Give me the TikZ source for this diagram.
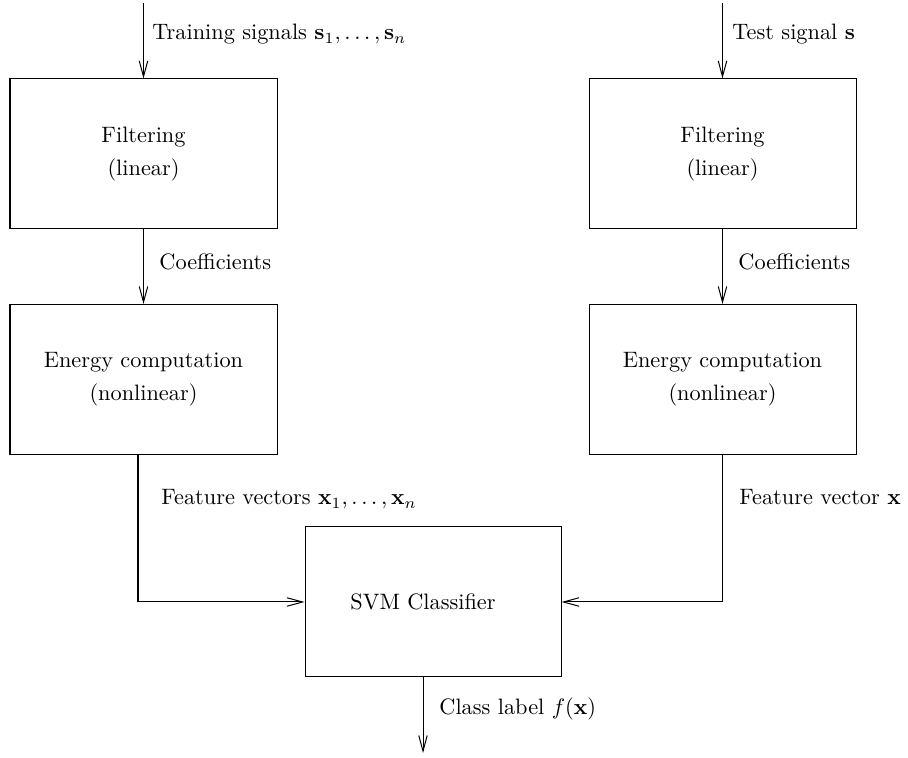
\documentclass[tikz,border=0pt]{standalone}
\usepackage{amsmath}
\usetikzlibrary{arrows.meta}
\newlength{\pxu}
\setlength{\pxu}{0.4485pt}
\begin{document}
\begin{tikzpicture}[x=\pxu, y=-\pxu,
  blockbox/.style={draw, line width=0.45pt, minimum width=267\pxu, minimum height=150\pxu, align=center, inner sep=0pt},
  arr/.style={draw, line width=0.45pt, -{Straight Barb[length=7pt,width=3.8pt]}},
  lbl/.style={anchor=base west, inner sep=0pt}]
\useasboundingbox (0,0) rectangle (908,758);

% left column
\node[blockbox] (fL) at (143.5,154) {Filtering\\[2.8pt](linear)};
\node[blockbox] (eL) at (143.5,379.5) {Energy computation\\[2.8pt](nonlinear)};
% right column
\node[blockbox] (fR) at (722.5,154) {Filtering\\[2.8pt](linear)};
\node[blockbox] (eR) at (722.5,379.5) {Energy computation\\[2.8pt](nonlinear)};
% classifier
\node[blockbox, minimum width=256\pxu] (svm) at (433,602) {};
\node[inner sep=0pt] (svmtxt) at (423,602) {SVM Classifier};

\coordinate (inL) at (143.5,3);
\coordinate (inR) at (722.5,3);
\coordinate (out) at (423,753);

\draw[arr] (inL) -- (fL.north);
\draw[arr] (inR) -- (fR.north);
\draw[arr] (fL.south) -- (eL.north);
\draw[arr] (fR.south) -- (eR.north);
\draw[arr] ([xshift=-5.5\pxu]eL.south) |- (svm.west);
\draw[arr] (eR.south) |- (svm.east);
\draw[arr] (svm.south -| out) -- (out);

% labels
\node[lbl] (lTrain) at (152,40) {Training signals $\mathbf{s}_1,\ldots,\mathbf{s}_n$};
\node[lbl] (lTest) at (732,40) {Test signal $\mathbf{s}$};
\node[lbl] (lCoefL) at (159,270) {Coefficients};
\node[lbl] (lCoefR) at (738,270) {Coefficients};
\node[lbl] (lFeatL) at (161,505) {Feature vectors $\mathbf{x}_1,\ldots,\mathbf{x}_n$};
\node[lbl] (lFeatR) at (739,505) {Feature vector $\mathbf{x}$};
\node[lbl] (lClass) at (439,715) {Class label $f(\mathbf{x})$};
\end{tikzpicture}
\end{document}
